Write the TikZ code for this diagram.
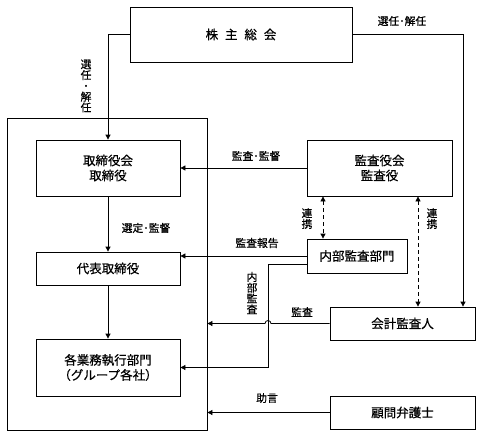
\documentclass[tikz,border=0pt]{standalone}
\usepackage{fontspec}
\setmainfont[FakeBold=0.6]{Noto Sans CJK JP}
\usetikzlibrary{arrows.meta}
\begin{document}
\begin{tikzpicture}[x=1pt,y=-1pt,
  line width=0.8pt,
  box/.style={draw,rectangle,inner sep=0pt,align=center,font=\fontsize{12.5}{15}\selectfont},
  lbl/.style={inner sep=0pt,font=\fontsize{10.8}{12}\selectfont},
  vlbl/.style={inner sep=0pt,align=center,font=\fontsize{10.8}{10.8}\selectfont},
  arr/.style={-{Triangle[length=5pt,width=5pt]}},
  darr/.style={{Triangle[length=5pt,width=5pt]}-{Triangle[length=5pt,width=5pt]},dash pattern=on 4pt off 3pt}]
\useasboundingbox (0,0) rectangle (481,436);
% outer box
\node[draw,rectangle,inner sep=0pt,minimum width=200pt,minimum height=312pt] (outer) at (107,274) {};
% boxes
\node[box,minimum width=222pt,minimum height=55pt] (kabu) at (241,34.5) {株\hspace{0.55em}主\hspace{0.55em}総\hspace{0.55em}会};
\node[box,minimum width=144pt,minimum height=56pt] (tori) at (108,168) {取締役会\\取締役};
\node[box,minimum width=145pt,minimum height=56pt] (kansa) at (379.5,168) {監査役会\\監査役};
\node[box,minimum width=144pt,minimum height=33pt] (daihyo) at (108,268.5) {代表取締役};
\node[box,minimum width=100pt,minimum height=34pt] (naibu) at (357,256) {内部監査部門};
\node[box,minimum width=145pt,minimum height=33pt] (kaikei) at (402.5,323.5) {会計監査人};
\node[box,minimum width=144pt,minimum height=57pt] (kaku) at (108,367.5) {各業務執行部門\\（グループ各社）};
\node[box,minimum width=145pt,minimum height=33pt] (komon) at (402.5,412.5) {顧問弁護士};
% coordinates
\coordinate (kr) at (463,323.5);
\coordinate (d1) at (323,168);
\coordinate (d2) at (418,168);
\coordinate (nb) at (268,264);
% connectors
\draw[arr] (kabu.west) -| (tori.north);
\draw[arr] (kabu.east) -| (kr |- kaikei.north);
\draw[arr] (kansa.west) -- (kansa.west -| tori.east);
\draw[arr] (tori.south) -- (daihyo.north);
\draw[arr] (daihyo.south) -- (kaku.north);
\draw[arr] (naibu.west) -- (naibu.west -| daihyo.east);
\draw[arr] (nb -| naibu.west) -- (nb) -- (nb |- kaku.east) -- (kaku.east);
\draw[arr] (kaikei.west) -- ([xshift=3pt]nb |- kaikei.west) arc[start angle=0,end angle=180,radius=3pt] -- (kaikei.west -| outer.east);
\draw[arr] (komon.west) -- (komon.west -| outer.east);
\draw[darr] (d1 |- kansa.south) -- (d1 |- naibu.north);
\draw[darr] (d2 |- kansa.south) -- (d2 |- kaikei.north);
% labels
\node[lbl] (l1) at (402,21) {選任･解任};
\node[vlbl] (l2) at (86,86) {選\\任\\･\\解\\任};
\node[lbl] (l3) at (256,156) {監査･監督};
\node[lbl] (l4) at (146,228) {選定･監督};
\node[lbl] (l5) at (257,243) {監査報告};
\node[vlbl] (l6) at (252,293) {内\\部\\監\\査};
\node[vlbl] (l7) at (307,218.5) {連\\携};
\node[vlbl] (l8) at (432,218.5) {連\\携};
\node[lbl] (l9) at (302,312) {監査};
\node[lbl] (l10) at (267,398) {助言};
\end{tikzpicture}
\end{document}
